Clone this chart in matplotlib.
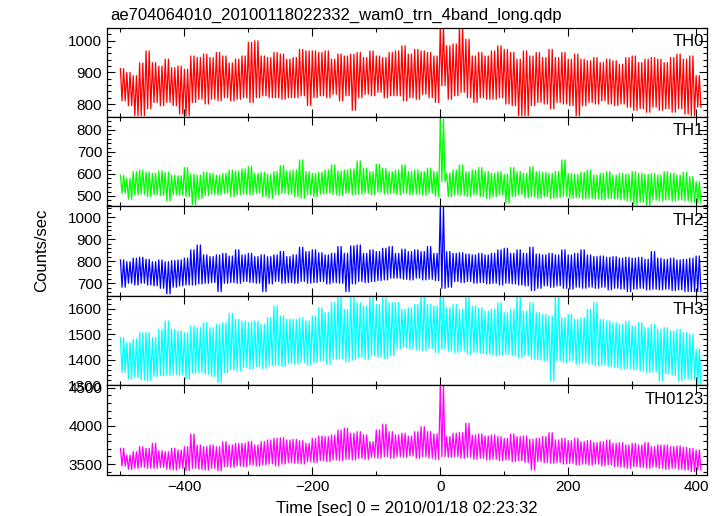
import numpy as np
import matplotlib
matplotlib.use('Agg')
import matplotlib.pyplot as plt
from matplotlib.ticker import MultipleLocator

plt.rcParams['font.family'] = ['Liberation Sans', 'DejaVu Sans']

# time bins [sec], 10 s wide; each bin keeps the min and max seen in the picture
tbin = np.arange(-500, 401, 10)

th0_hi = [912, 900, 890, 930, 968, 931, 920, 942, 915, 920, 910, 952, 947, 958, 947, 963, 952, 930, 942, 952,
          995, 1000, 952, 947, 963, 958, 942, 947, 973, 968, 968, 963, 968, 942, 958, 952, 958, 963, 947, 968,
          952, 947, 963, 968, 984, 958, 973, 968, 963, 952, 1045, 984, 990, 1045, 1005, 952, 963, 952, 968, 984,
          973, 963, 942, 968, 952, 963, 947, 973, 947, 963, 942, 958, 942, 937, 947, 931, 942, 937, 926, 947,
          952, 931, 942, 947, 942, 931, 947, 958, 942, 952, 890]
th0_lo = [810, 795, 763, 763, 785, 805, 795, 805, 795, 768, 763, 805, 815, 800, 815, 810, 820, 810, 815, 820,
          805, 820, 826, 820, 820, 815, 820, 820, 826, 795, 820, 826, 820, 831, 810, 826, 780, 820, 831, 826,
          837, 820, 826, 826, 810, 820, 815, 831, 820, 805, 858, 815, 826, 837, 820, 805, 820, 815, 815, 820,
          800, 795, 763, 763, 795, 805, 800, 785, 805, 800, 795, 763, 795, 805, 800, 810, 800, 795, 800, 790,
          780, 785, 774, 790, 780, 785, 774, 785, 768, 763, 790]

th1_hi = [595, 580, 611, 618, 608, 603, 614, 608, 595, 592, 629, 598, 595, 608, 603, 595, 603, 618, 614, 623,
          633, 603, 608, 598, 611, 638, 614, 618, 664, 611, 603, 608, 618, 641, 614, 618, 623, 659, 626, 611,
          644, 626, 611, 618, 641, 611, 618, 611, 626, 611, 850, 603, 618, 641, 611, 618, 629, 611, 603, 611,
          598, 629, 611, 603, 633, 611, 608, 603, 611, 664, 603, 598, 608, 618, 595, 603, 611, 595, 603, 598,
          611, 603, 598, 603, 595, 611, 603, 595, 608, 588, 565]
th1_lo = [512, 485, 505, 508, 497, 505, 502, 477, 505, 502, 497, 459, 489, 502, 508, 505, 512, 497, 505, 508,
          505, 512, 497, 489, 505, 512, 508, 497, 489, 505, 497, 508, 512, 505, 502, 512, 505, 508, 512, 505,
          517, 508, 512, 505, 512, 505, 508, 502, 512, 497, 565, 497, 505, 502, 497, 505, 497, 489, 497, 505,
          467, 497, 505, 492, 497, 489, 497, 489, 492, 497, 489, 492, 486, 489, 486, 482, 489, 486, 482, 477,
          459, 471, 452, 482, 477, 482, 477, 482, 477, 471, 467]

th2_hi = [806, 798, 814, 818, 809, 798, 806, 798, 803, 806, 814, 852, 874, 829, 821, 829, 836, 824, 852, 829,
          836, 821, 829, 821, 829, 844, 821, 829, 864, 844, 852, 839, 829, 836, 867, 836, 870, 874, 836, 852,
          844, 859, 867, 836, 855, 844, 852, 844, 867, 836, 1045, 844, 836, 839, 833, 829, 836, 829, 836, 852,
          859, 836, 852, 836, 864, 833, 829, 836, 829, 852, 829, 836, 852, 829, 821, 824, 818, 821, 814, 818,
          814, 818, 809, 844, 814, 809, 814, 806, 809, 814, 824]
th2_lo = [682, 700, 692, 700, 692, 688, 677, 652, 682, 688, 692, 692, 697, 700, 703, 662, 700, 703, 700, 708,
          703, 700, 662, 697, 708, 700, 703, 700, 708, 700, 703, 708, 697, 703, 700, 662, 697, 708, 703, 708,
          712, 715, 723, 723, 718, 715, 723, 715, 718, 712, 677, 682, 708, 703, 708, 700, 703, 697, 700, 692,
          700, 697, 692, 688, 667, 677, 688, 682, 688, 677, 673, 682, 677, 682, 677, 682, 670, 677, 673, 662,
          673, 677, 670, 673, 670, 673, 667, 670, 662, 662, 662]

th3_hi = [1487, 1468, 1481, 1507, 1507, 1487, 1520, 1552, 1520, 1513, 1507, 1533, 1526, 1546, 1526, 1539, 1546, 1582, 1559, 1552,
          1546, 1552, 1539, 1565, 1611, 1572, 1559, 1559, 1565, 1552, 1572, 1604, 1585, 1624, 1650, 1598, 1650, 1624, 1611, 1650,
          1617, 1643, 1624, 1624, 1598, 1604, 1617, 1650, 1617, 1611, 1650, 1604, 1617, 1598, 1650, 1611, 1604, 1591, 1598, 1624,
          1585, 1598, 1650, 1591, 1624, 1585, 1578, 1572, 1650, 1565, 1578, 1559, 1565, 1598, 1624, 1559, 1552, 1546, 1539, 1552,
          1533, 1546, 1526, 1539, 1520, 1526, 1513, 1520, 1507, 1500, 1442]
th3_lo = [1351, 1325, 1331, 1322, 1318, 1335, 1338, 1340, 1344, 1340, 1325, 1348, 1351, 1344, 1335, 1312, 1351, 1361, 1357, 1370,
          1364, 1374, 1366, 1377, 1379, 1374, 1387, 1383, 1390, 1379, 1390, 1396, 1383, 1403, 1405, 1392, 1400, 1409, 1403, 1416,
          1409, 1405, 1416, 1442, 1448, 1442, 1439, 1435, 1444, 1429, 1442, 1435, 1429, 1435, 1422, 1429, 1426, 1422, 1416, 1418,
          1422, 1416, 1409, 1416, 1403, 1400, 1396, 1318, 1396, 1390, 1396, 1383, 1390, 1383, 1377, 1379, 1374, 1370, 1364, 1366,
          1361, 1357, 1351, 1353, 1318, 1344, 1340, 1318, 1325, 1322, 1305]

th0123_hi = [3706, 3618, 3662, 3728, 3706, 3772, 3675, 3662, 3706, 3684, 3728, 3895, 3750, 3728, 3750, 3728, 3794, 3750, 3772, 3772,
             3794, 3750, 3794, 3816, 3838, 3846, 3816, 3825, 3807, 3772, 3838, 3868, 3860, 3882, 3947, 3969, 3904, 3925, 3882, 3794,
             3947, 4022, 3925, 3882, 3904, 3868, 3925, 3991, 3925, 3895, 4526, 3860, 3904, 3912, 4035, 3882, 3895, 3868, 3882, 3860,
             3838, 3895, 3860, 3868, 3825, 3838, 3860, 3912, 3816, 3838, 3807, 3838, 3794, 3807, 3781, 3794, 3816, 3772, 3781, 3750,
             3772, 3750, 3781, 3728, 3750, 3750, 3728, 3737, 3719, 3706, 3684]
th0123_lo = [3474, 3430, 3443, 3456, 3443, 3443, 3456, 3430, 3421, 3443, 3412, 3443, 3430, 3421, 3443, 3412, 3465, 3456, 3474, 3465,
             3487, 3474, 3487, 3500, 3474, 3500, 3518, 3509, 3500, 3531, 3518, 3544, 3531, 3553, 3544, 3561, 3553, 3575, 3561, 3588,
             3575, 3596, 3575, 3596, 3588, 3605, 3575, 3596, 3575, 3561, 3596, 3588, 3596, 3575, 3588, 3561, 3575, 3553, 3561, 3544,
             3553, 3531, 3544, 3518, 3421, 3531, 3518, 3509, 3518, 3500, 3509, 3487, 3500, 3487, 3500, 3474, 3487, 3465, 3456, 3443,
             3465, 3456, 3443, 3456, 3443, 3430, 3443, 3430, 3421, 3399, 3421]

panels = [
    ('TH0', th0_hi, th0_lo, '#ff0000', (759, 1042), 100, 20),
    ('TH1', th1_hi, th1_lo, '#00ff00', (452, 859), 100, 20),
    ('TH2', th2_hi, th2_lo, '#0000ff', (642, 1049), 100, 20),
    ('TH3', th3_hi, th3_lo, '#00ffff', (1300, 1650), 100, 20),
    ('TH0123', th0123_hi, th0123_lo, '#ff00ff', (3356, 4531), 500, 100),
]

fig, axs = plt.subplots(nrows=5, sharex=True, figsize=(7.21, 5.16), dpi=100)
fig.subplots_adjust(left=0.1484, right=0.9806, top=0.9467, bottom=0.0795, hspace=0)

for ax, (name, hi, lo, col, ylim, ymaj, ymin) in zip(axs, panels):
    # each bin drawn as two max-min strokes, 2.5 s apart
    tt = np.column_stack([tbin, tbin + 2.5, tbin + 5, tbin + 7.5]).ravel()
    yy = np.column_stack([hi, lo, hi, lo]).ravel()
    ax.plot(tt, yy, color=col, linewidth=0.9)
    ax.set_ylim(*ylim)
    ax.set_xlim(-521, 417)
    ax.yaxis.set_major_locator(MultipleLocator(ymaj))
    ax.yaxis.set_minor_locator(MultipleLocator(ymin))
    ax.xaxis.set_major_locator(MultipleLocator(200))
    ax.xaxis.set_minor_locator(MultipleLocator(100))
    ax.tick_params(which='both', direction='in', top=True, right=True, labelsize=11, width=0.8)
    ax.tick_params(which='major', length=6)
    ax.tick_params(which='minor', length=3)
    ax.text(0.995, 0.93, name, transform=ax.transAxes, ha='right', va='top', fontsize=12)
    for s in ax.spines.values():
        s.set_linewidth(0.9)

fig.text(110 / 721, 1 - 15 / 516, 'ae704064010_20100118022332_wam0_trn_4band_long.qdp',
         ha='left', va='center', fontsize=12)
fig.text(42 / 721, 1 - 250 / 516, 'Counts/sec', rotation=90, ha='center', va='center', fontsize=12)
fig.text(407 / 721, 1 - 508 / 516, 'Time [sec] 0 = 2010/01/18 02:23:32', ha='center', va='center', fontsize=12)

fig.savefig('out.png', dpi=100)
